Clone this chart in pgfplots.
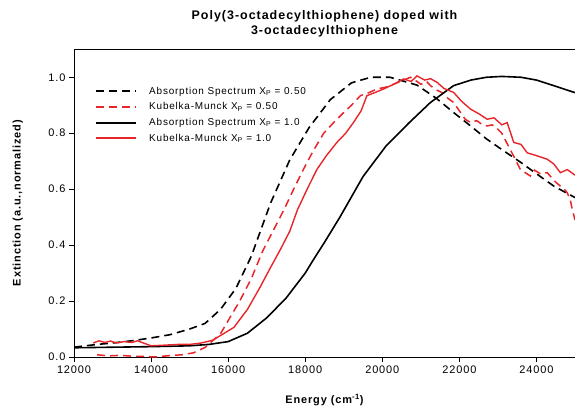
\documentclass[border=0pt]{standalone}
\usepackage{fontspec}
\setmainfont{Liberation Sans}[LetterSpace=8]
\usepackage{pgfplots}
\pgfplotsset{compat=1.18}
\definecolor{kmred}{RGB}{232,38,42}
\begin{document}
\begin{tikzpicture}
\path[use as bounding box] (-74bp,-51bp) rectangle (501bp,357bp);
\begin{axis}[
  at={(0,0)}, anchor=south west,
  scale only axis, width=501bp, height=307.7bp,
  xmin=12000, xmax=25000, ymin=0, ymax=1.1,
  xtick={12000,14000,16000,18000,20000,22000,24000},
  ytick={0,0.2,0.4,0.6,0.8,1.0},
  scaled x ticks=false,
  xtick pos=left, ytick pos=left, tick align=outside,
  major tick length=5bp,
  axis line style={line width=0.8bp},
  every tick/.style={black, line width=0.8bp},
  /pgf/number format/assume math mode=true,
  xticklabel style={font=\fontsize{11}{13}\selectfont, /pgf/number format/set thousands separator={}},
  yticklabel style={font=\fontsize{11}{13}\selectfont, /pgf/number format/.cd, fixed, fixed zerofill, precision=1},
  title={Poly(3-octadecylthiophene) doped with\\3-octadecylthiophene},
  title style={align=center, font=\bfseries\fontsize{12.5}{15}\selectfont, at={(axis description cs:0.5,1)}, anchor=south, yshift=3bp},
  xlabel={Energy (cm\textsuperscript{-1})},
  xlabel style={font=\bfseries\fontsize{11}{13}\selectfont, at={(axis description cs:0.5,0)}, anchor=center, yshift=-43bp},
  ylabel={Extinction (a.u.,normalized)},
  ylabel style={font=\bfseries\fontsize{11}{13}\selectfont, at={(axis description cs:-0.112,0.5)}, anchor=center},
  legend style={draw=none, fill=none, at={(axis description cs:0.042,0.885)}, anchor=north west, font=\fontsize{10}{12}\selectfont, row sep=3bp, column sep=10bp, inner sep=0pt},
  legend cell align=left,
  legend image code/.code={\draw[#1, line width=2bp] (0bp,0bp) -- (40bp,0bp);},
]
\addplot[black, line width=1.6bp, dash pattern=on 8bp off 5bp] coordinates {
(12000,0.035) (12300,0.040) (12600,0.045) (13000,0.050) (13500,0.058) (14000,0.068)
(14500,0.080) (15000,0.100) (15400,0.120) (15800,0.170) (16200,0.245) (16600,0.360)
(17100,0.550) (17600,0.705) (18100,0.820) (18650,0.920) (19200,0.980) (19700,1.000)
(20200,1.000) (20900,0.972) (21400,0.925) (21850,0.874) (22300,0.825) (22700,0.780)
(23150,0.737) (23600,0.695) (24000,0.655) (24450,0.611) (25000,0.570)
};
\addlegendentry{Absorption Spectrum X\textsubscript{P} = 0.50}
\addplot[kmred, line width=1.5bp, dash pattern=on 8bp off 5bp] coordinates {
(12600,0.008) (12900,0.004) (13200,0.006) (13500,0.003) (13800,0.002) (14100,0.000)
(14400,0.004) (14800,0.008) (15100,0.015) (15400,0.034) (15800,0.083) (16000,0.130)
(16300,0.200) (16600,0.280) (16900,0.380) (17200,0.460) (17450,0.527) (17700,0.600)
(17950,0.670) (18200,0.735) (18480,0.800) (18750,0.840) (19000,0.874) (19200,0.900)
(19430,0.934) (19650,0.945) (19860,0.958) (20100,0.965) (20380,0.980) (20550,0.990)
(20730,1.000) (20900,0.985) (21000,0.975) (21150,0.985) (21250,0.970) (21400,0.955)
(21550,0.945) (21700,0.925) (21850,0.910) (22000,0.880) (22150,0.850) (22290,0.838)
(22450,0.845) (22600,0.830) (22720,0.826) (22850,0.830) (23000,0.814) (23100,0.800)
(23250,0.760) (23400,0.720) (23580,0.671) (23700,0.660) (23840,0.647) (23950,0.668)
(24100,0.655) (24280,0.659) (24400,0.640) (24500,0.625) (24620,0.611) (24720,0.600)
(24800,0.587) (24880,0.560) (24930,0.527) (25000,0.490)
};
\addlegendentry{Kubelka-Munck X\textsubscript{P} = 0.50}
\addplot[black, line width=1.6bp] coordinates {
(12000,0.033) (13000,0.035) (14000,0.037) (15000,0.040) (15500,0.045) (16000,0.055)
(16500,0.085) (17000,0.140) (17500,0.210) (18000,0.300) (18200,0.345) (18500,0.410)
(18900,0.500) (19500,0.645) (20100,0.755) (20700,0.838) (21250,0.910) (21850,0.970)
(22300,0.990) (22700,1.000) (23100,1.003) (23600,1.000) (24000,0.990) (24450,0.970)
(25000,0.945)
};
\addlegendentry{Absorption Spectrum X\textsubscript{P} = 1.0}
\addplot[kmred, line width=1.4bp] coordinates {
(12500,0.050) (12650,0.058) (12800,0.052) (12950,0.057) (13100,0.050) (13300,0.055)
(13500,0.052) (13650,0.058) (13800,0.050) (14000,0.040) (14300,0.042) (14700,0.045)
(15000,0.045) (15300,0.050) (15600,0.060) (15900,0.085) (16150,0.106) (16500,0.170)
(16830,0.250) (17100,0.320) (17350,0.383) (17600,0.450) (17800,0.527) (18050,0.600)
(18300,0.670) (18550,0.720) (18820,0.767) (19050,0.800) (19250,0.838) (19450,0.880)
(19600,0.934) (19800,0.945) (20030,0.958) (20300,0.975) (20550,0.994) (20750,0.985)
(20900,1.005) (21100,0.990) (21250,0.995) (21420,0.982) (21600,0.960) (21850,0.946)
(22050,0.915) (22290,0.886) (22500,0.870) (22720,0.850) (22900,0.855) (23100,0.830)
(23240,0.838) (23410,0.767) (23600,0.760) (23760,0.730) (24000,0.720) (24280,0.707)
(24450,0.690) (24620,0.659) (24800,0.670) (25000,0.650)
};
\addlegendentry{Kubelka-Munck X\textsubscript{P} = 1.0}
\end{axis}
\end{tikzpicture}
\end{document}
